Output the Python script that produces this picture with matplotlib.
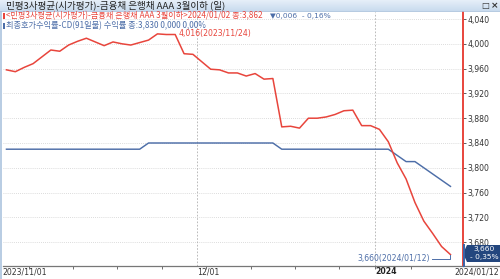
import matplotlib
matplotlib.use("Agg")
import matplotlib.pyplot as plt
import matplotlib.transforms as mtransforms
from matplotlib.patches import Rectangle, Polygon
import numpy as np
import pandas as pd

plt.rcParams['font.family'] = ['Noto Sans CJK KR', 'DejaVu Sans']

# business days shown on the chart (Korean market, 2023/11/01 .. 2024/01/12)
holidays = ["2023-12-25", "2024-01-01"]
dates = [d for d in pd.bdate_range("2023-11-01", "2024-01-12") if d.strftime("%Y-%m-%d") not in holidays]

# 민평3사평균 금융채 은행채 AAA 3월이하 (x1000)
bank_aaa = [3958, 3955, 3962, 3968, 3979, 3990, 3988, 3998, 4004, 4009,
            4003, 3997, 4003, 4000, 3998, 4002, 4006, 4016, 4015, 4015,
            3984, 3983, 3971, 3959, 3958, 3953, 3953, 3948, 3952, 3943,
            3944, 3866, 3867, 3864, 3880, 3880, 3882, 3886, 3892, 3893,
            3868, 3868, 3862, 3842, 3808, 3782, 3744, 3714, 3694, 3673,
            3660]
# CD(91일물) 최종호가수익률 (x1000)
cd91 = [3830] * 16 + [3840] * 15 + [3830] * 13 + [3820, 3810, 3810, 3800, 3790, 3780, 3770]

yticks = [4040, 4000, 3960, 3920, 3880, 3840, 3800, 3760, 3720, 3680]

RED = "#e8453c"
BLUE = "#4d6ea8"
W, H = 500, 279
NARROW = ["Liberation Sans Narrow", "DejaVu Sans"]


def fx(x):
    return x / W


def fy(y):
    return 1 - y / H


fig = plt.figure(figsize=(5, 2.79), dpi=100)
fig.patch.set_facecolor("white")

ax = fig.add_axes([fx(3), fy(266), 460 / W, 254 / H])
x = np.arange(len(dates))
ax.plot(x, cd91, color=BLUE, lw=1.05, zorder=3)
ax.plot(x, bank_aaa, color=RED, lw=1.1, zorder=4)

ax.set_xlim(-0.39, 51.41)
ax.set_ylim(3641.6, 4051.3)

# y axis on the right, red spine
ax.yaxis.tick_right()
ax.set_yticks(yticks)
ax.set_yticklabels([f"{v:,}" for v in yticks])
ax.tick_params(axis="y", direction="out", length=2.5, width=0.6, color="#444",
               labelsize=5.6, labelcolor="#333", pad=1)
for lab in ax.get_yticklabels():
    lab.set_family(NARROW)
for y in yticks:
    ax.axhline(y, color="#d0d0d0", lw=0.6, ls=(0, (1, 1.5)), zorder=1)

# week separators on the x axis, month boundaries as dashed lines
months = [i for i in range(1, len(dates)) if dates[i].month != dates[i - 1].month]
weeks = [i for i in range(1, len(dates)) if dates[i].weekday() < dates[i - 1].weekday() or (dates[i] - dates[i - 1]).days > 3]
ax.set_xticks([i - 0.5 for i in weeks])
ax.set_xticklabels([])
ax.tick_params(axis="x", direction="out", length=2.5, width=0.6, color="#555")
for m in months:
    ax.axvline(m - 0.5, color="#b0b0b0", lw=0.6, ls=(0, (2, 2)), zorder=1)

for s in ["top", "left"]:
    ax.spines[s].set_visible(False)
ax.spines["right"].set_color(RED)
ax.spines["right"].set_linewidth(1.4)
ax.spines["bottom"].set_color("#777")
ax.spines["bottom"].set_linewidth(0.9)

trans = mtransforms.blended_transform_factory(ax.transData, fig.transFigure)
fig.text(fx(2), fy(272), dates[0].strftime("%Y/%m/%d"), fontsize=5.6, color="#333", va="center", family=NARROW)
for m in months:
    if dates[m].month == 1:
        ax.text(m - 0.5, fy(272), dates[m].strftime("%Y"), transform=trans, fontsize=5.6, color="#222",
                va="center", fontweight="bold", family=NARROW)
    else:
        ax.text(m - 0.5, fy(272), dates[m].strftime("%m/%d"), transform=trans, fontsize=5.6, color="#333",
                va="center", family=NARROW)
fig.text(fx(499), fy(272), dates[-1].strftime("%Y/%m/%d"), fontsize=5.6, color="#333", va="center",
         ha="right", family=NARROW)
fig.add_artist(plt.Line2D([fx(463), fx(500)], [fy(266), fy(266)], color="#777", lw=0.9))

# max / last annotations
imax = int(np.argmax(bank_aaa))
ax.text(imax + 2.4, bank_aaa[imax], f"{bank_aaa[imax]:,}({dates[imax].strftime('%Y/%m/%d')})",
        color=RED, fontsize=5.6, va="center", ha="left", family=NARROW)
last = len(dates) - 1
ax.plot([47.9, last, last], [3653, 3653, bank_aaa[last]], color=BLUE, lw=0.7, zorder=5)
ax.text(47.7, 3653, f"{bank_aaa[last]:,}({dates[last].strftime('%Y/%m/%d')})",
        color=BLUE, fontsize=5.6, va="center", ha="right", family=NARROW)

# current value box on the right axis
fig.add_artist(Polygon([(fx(463), fy(253.5)), (fx(467), fy(245)), (fx(500), fy(245)),
                        (fx(500), fy(262)), (fx(467), fy(262))], closed=True,
                       facecolor="#23467e", edgecolor="none", zorder=6))
fig.add_artist(plt.Line2D([fx(463.5), fx(463.5)], [fy(245), fy(266)], color="#3a64a8", lw=1.4, zorder=7))
pct = (bank_aaa[last] - bank_aaa[last - 1]) / bank_aaa[last - 1] * 100
fig.text(fx(484), fy(249.5), f"{bank_aaa[last]:,}", color="white", fontsize=5.4, ha="center", va="center",
         zorder=8, family=NARROW)
fig.text(fx(484), fy(257.5), f"- {abs(pct):.2f}%".replace(".", ","), color="white", fontsize=5.4,
         ha="center", va="center", zorder=8, family=NARROW)

# title bar
tb = fig.add_axes([0, fy(11), 1, 11 / H])
tb.imshow(np.linspace(0, 1, 20).reshape(-1, 1), cmap=matplotlib.colors.LinearSegmentedColormap.from_list(
    "tb", ["#e6eff9", "#c9dbee"]), aspect="auto", extent=[0, 1, 0, 1], origin="upper")
tb.axis("off")
fig.text(fx(6), fy(5.5), "민평3사평균(시가평가)-금융채 은행채 AAA 3월이하 (일)", fontsize=6.9, color="#222",
         va="center")
fig.text(fx(485), fy(5.5), "□", fontsize=6, color="#333", va="center", ha="center", fontweight="bold",
         family="DejaVu Sans")
fig.text(fx(495), fy(5.5), "×", fontsize=6.5, color="#333", va="center", ha="center", fontweight="bold",
         family="DejaVu Sans")
fig.add_artist(plt.Line2D([0, 1], [fy(11), fy(11)], color="#a9c1dc", lw=0.6))
fig.add_artist(Rectangle((0, 0), fx(1.5), fy(11), facecolor="#b9cde3", edgecolor="none"))

# legend rows
d0 = dates[42]
chg = bank_aaa[42] - bank_aaa[41]
fig.add_artist(Rectangle((fx(2.5), fy(19)), fx(2), 6 / H, facecolor=RED, edgecolor="none"))
fig.text(fx(6), fy(16), f"<민평3사평균(시가평가)-금융채 은행채 AAA 3월이하>{d0.strftime('%Y/%m/%d')} 종:{bank_aaa[42]:,}",
         fontsize=5.85, color=RED, va="center")
fig.text(fx(270), fy(16), f"▼0,{abs(chg):03d}  - {abs(chg) / bank_aaa[41] * 100:.2f}%".replace(".", ","),
         fontsize=5.4, color=BLUE, va="center", family=["DejaVu Sans", "Noto Sans CJK KR"])
fig.add_artist(Rectangle((fx(2.5), fy(29)), fx(2), 6 / H, facecolor=BLUE, edgecolor="none"))
fig.text(fx(6), fy(26), f"최종호가수익률-CD(91일물) 수익률 종:{cd91[42]:,} 0,000 0,00%",
         fontsize=5.9, color=BLUE, va="center")

fig.savefig("out.png", dpi=100)
